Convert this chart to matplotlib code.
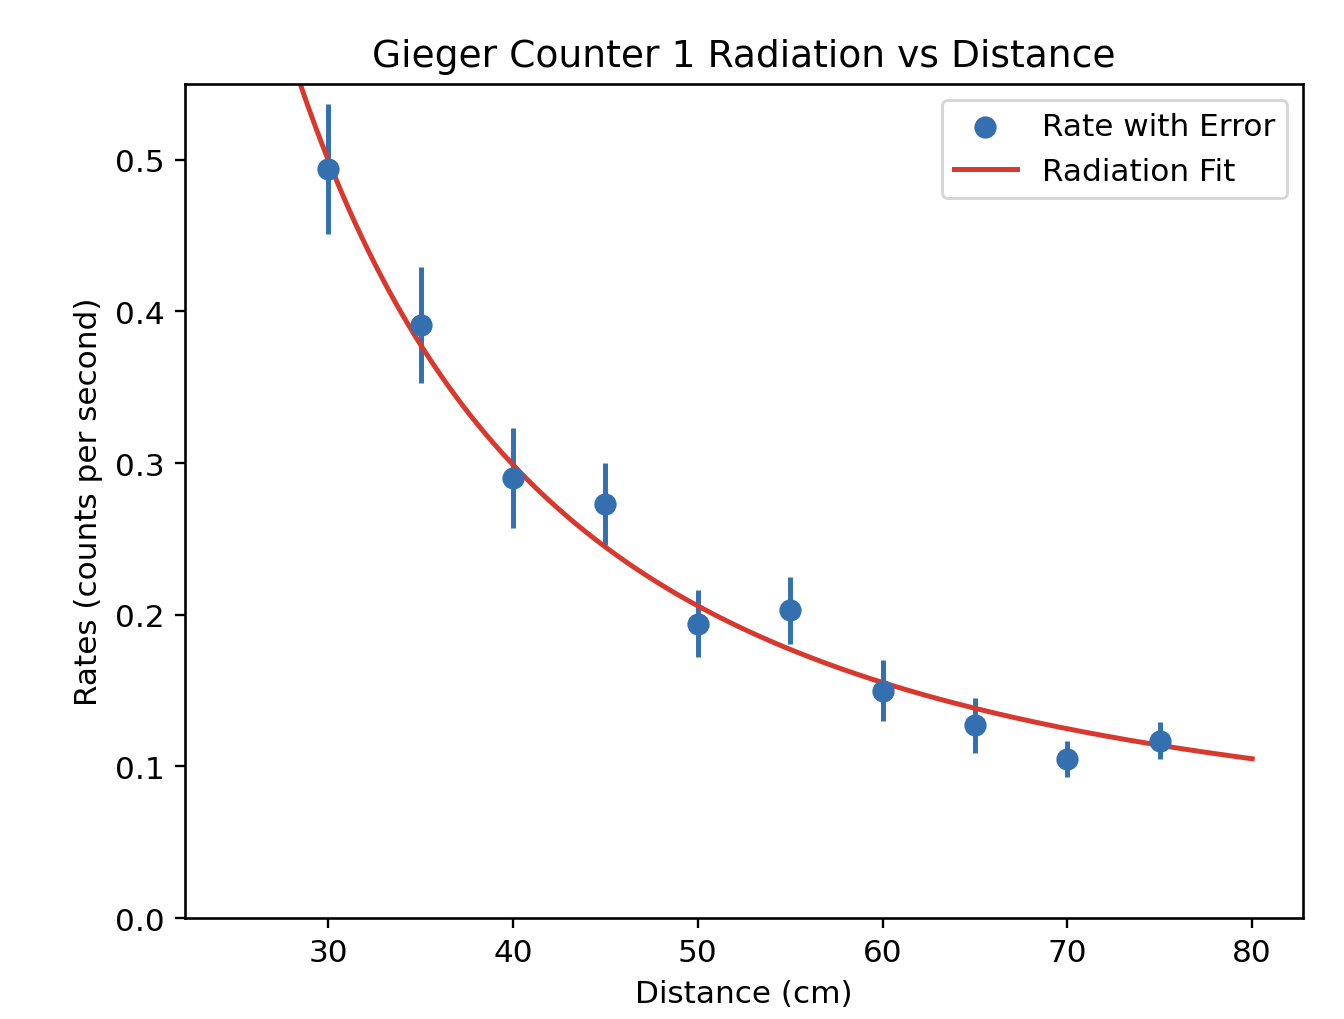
import numpy as np
import matplotlib.pyplot as plt

# Measured rates at each distance
distance = [30, 35, 40, 45, 50, 55, 60, 65, 70, 75]
rate = [0.494, 0.391, 0.290, 0.273, 0.194, 0.203, 0.150, 0.127, 0.105, 0.117]
rate_err = [0.043, 0.038, 0.033, 0.027, 0.022, 0.022, 0.020, 0.018, 0.012, 0.012]

# Fit parameters: rate = A / d^2 + C
fit_A = 413.6
fit_C = 0.0404
fit_x = np.linspace(25, 80, 300)
fit_y = fit_A / fit_x**2 + fit_C

blue = '#3470b0'
red = '#d8392e'

plt.rcParams['font.size'] = 10.7
plt.rcParams['axes.titlesize'] = 12.9
plt.rcParams['axes.linewidth'] = 0.9

fig = plt.figure(figsize=(1344 / 210, 1020 / 210), dpi=210)
plt.errorbar(distance, rate, yerr=rate_err, fmt='none', ecolor=blue, elinewidth=1.7)
plt.scatter(distance, rate, color=blue, s=44, zorder=3, label='Rate with Error')
plt.plot(fit_x, fit_y, color=red, linewidth=1.7, label='Radiation Fit')
plt.ylim(0, 0.55)
plt.title("Gieger Counter 1 Radiation vs Distance")
plt.xlabel("Distance (cm)")
plt.ylabel("Rates (counts per second)")
plt.legend(loc='upper right')
plt.subplots_adjust(left=0.1376, right=0.9695, top=0.9167, bottom=0.099)
plt.savefig("out.png", dpi=210)
